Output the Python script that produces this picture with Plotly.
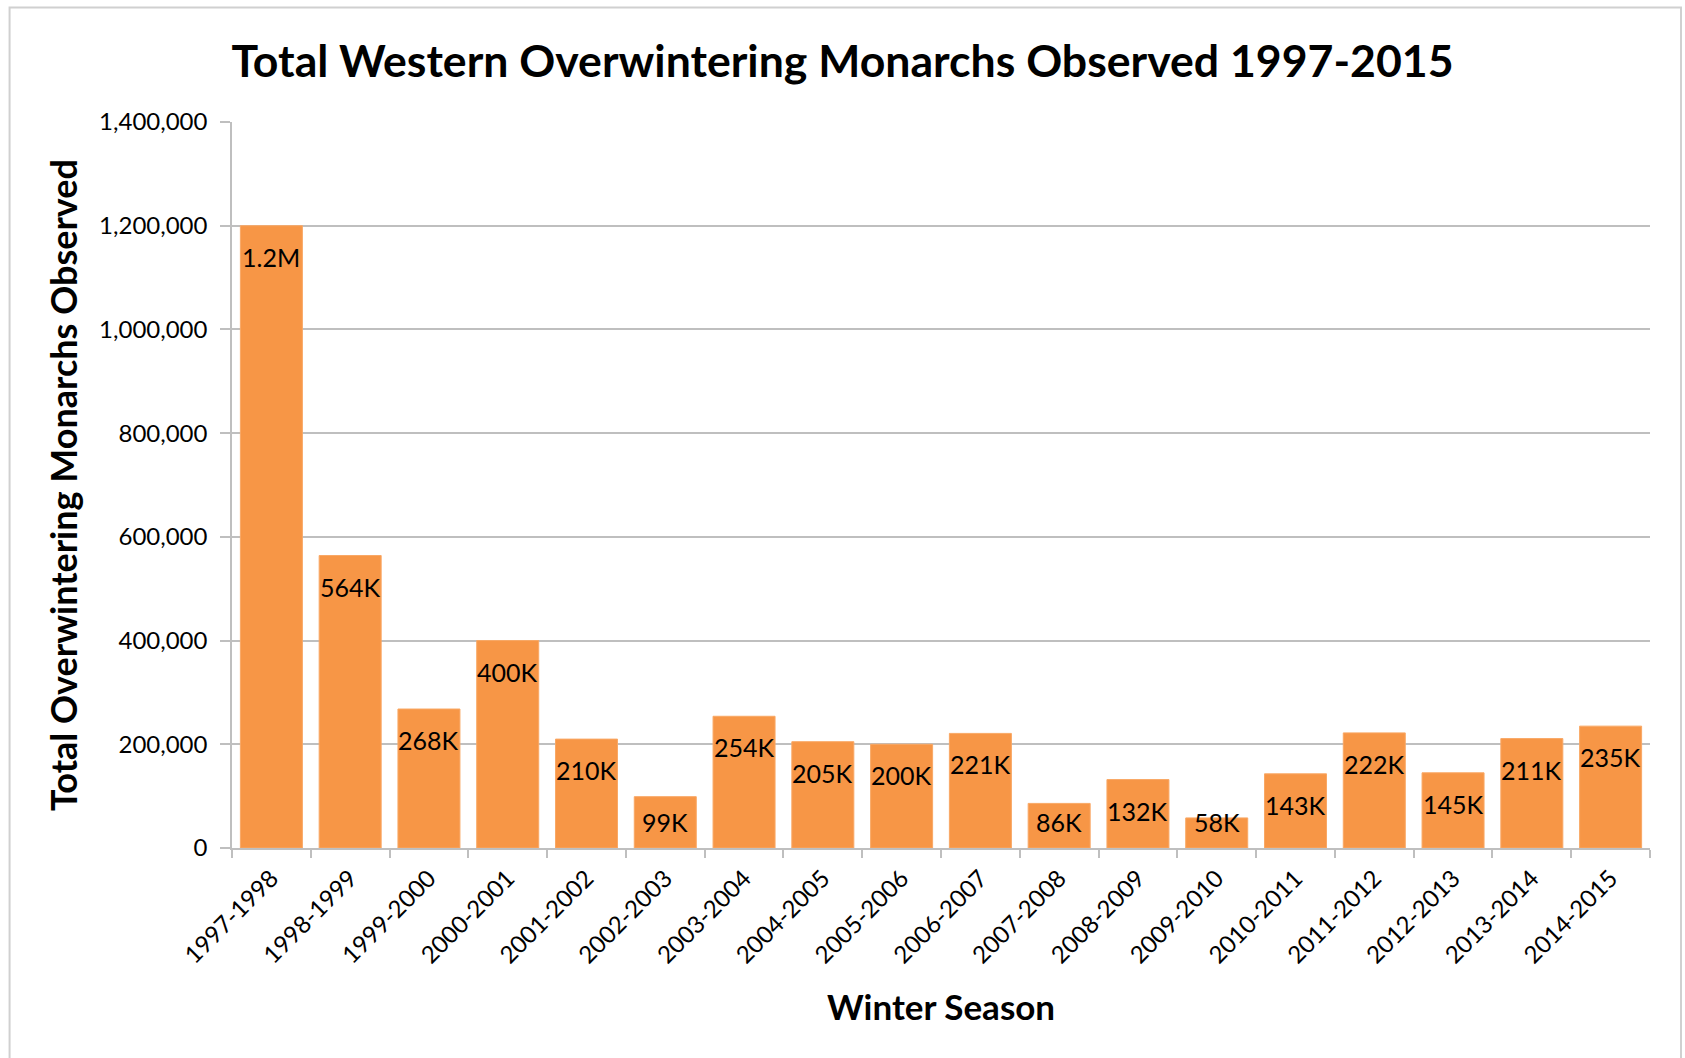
import plotly.graph_objects as go

# ---- data ----
seasons = ["1997-1998", "1998-1999", "1999-2000", "2000-2001", "2001-2002", "2002-2003",
           "2003-2004", "2004-2005", "2005-2006", "2006-2007", "2007-2008", "2008-2009",
           "2009-2010", "2010-2011", "2011-2012", "2012-2013", "2013-2014", "2014-2015"]
monarchs = [1200000, 564000, 268000, 400000, 210000, 99000,
            254000, 205000, 200000, 221000, 86000, 132000,
            58000, 143000, 222000, 145000, 211000, 235000]
y_ticks = [0, 200000, 400000, 600000, 800000, 1000000, 1200000, 1400000]
y_max = 1400000


def short_label(v):
    if v >= 1000000:
        return f"{v / 1000000:.1f}M"
    return f"{v / 1000:.0f}K"


labels = [short_label(v) for v in monarchs]

# ---- layout geometry (pixels) ----
W, H = 1685, 1058
PL, PR, PT, PB = 231.5, 1650, 122, 848  # plot area edges
FONT = "Lato, 'Open Sans', sans-serif"
GRID = "#BFBFBF"
ORANGE = "#F79646"

fig = go.Figure(
    go.Bar(
        x=seasons,
        y=monarchs,
        marker=dict(color=ORANGE, line=dict(color="#F9A865", width=1)),
        hoverinfo="x+y",
    )
)

# data labels inside the top of each bar (clamped near the base for short bars)
for s, v, t in zip(seasons, monarchs, labels):
    if v >= 110000:
        fig.add_annotation(x=s, y=v, text=t, showarrow=False, yanchor="middle",
                           yshift=-31, font=dict(family=FONT, size=25, color="black"))
    else:
        fig.add_annotation(x=s, y=0, text=t, showarrow=False, yanchor="middle",
                           yshift=26, font=dict(family=FONT, size=25, color="black"))

pw = PR - PL
ph = PB - PT


def px_x(p):
    return (p - PL) / pw


def px_y(p):
    return (PB - p) / ph


# outer chart border
fig.add_shape(type="rect", xref="paper", yref="paper",
              x0=px_x(9), x1=px_x(1681), y0=px_y(1065), y1=px_y(7.5),
              line=dict(color="#D0D0D0", width=2), fillcolor="rgba(0,0,0,0)", layer="below")

fig.update_layout(
    width=W, height=H, autosize=False,
    margin=dict(l=PL, r=W - PR, t=PT, b=H - PB, pad=0),
    paper_bgcolor="white", plot_bgcolor="white",
    bargap=0.213,
    showlegend=False,
    font=dict(family=FONT, color="black"),
    title=dict(
        text="<b>Total Western Overwintering Monarchs Observed 1997-2015</b>",
        x=0.5, xref="container", xanchor="center",
        y=1 - 61 / H, yref="container", yanchor="middle",
        font=dict(family=FONT, size=44.6, color="black"),
    ),
    xaxis=dict(
        type="category",
        showline=True, linecolor=GRID, linewidth=1.5,
        ticks="outside", tickson="boundaries", ticklen=8, tickcolor=GRID, tickwidth=1.5,
        showgrid=False,
        tickangle=-45,
        ticklabelstandoff=5,
        tickfont=dict(family=FONT, size=24, color="black"),
        title=dict(text="<b>Winter Season</b>", standoff=28,
                   font=dict(family=FONT, size=35, color="black")),
    ),
    yaxis=dict(
        range=[0, y_max],
        tickvals=y_ticks, tickformat=",d",
        showline=True, linecolor=GRID, linewidth=1.5,
        ticks="outside", ticklen=10, tickcolor=GRID, tickwidth=1.5,
        showgrid=True, gridcolor=GRID, gridwidth=1.5,
        zeroline=False,
        ticklabelstandoff=8,
        tickfont=dict(family=FONT, size=24, color="black"),
        title=dict(text="<b>Total Overwintering Monarchs Observed</b>", standoff=11,
                   font=dict(family=FONT, size=36, color="black")),
    ),
)

fig.write_html("out.html", config={"displayModeBar": False},
               post_script="document.body.style.margin='0';")
